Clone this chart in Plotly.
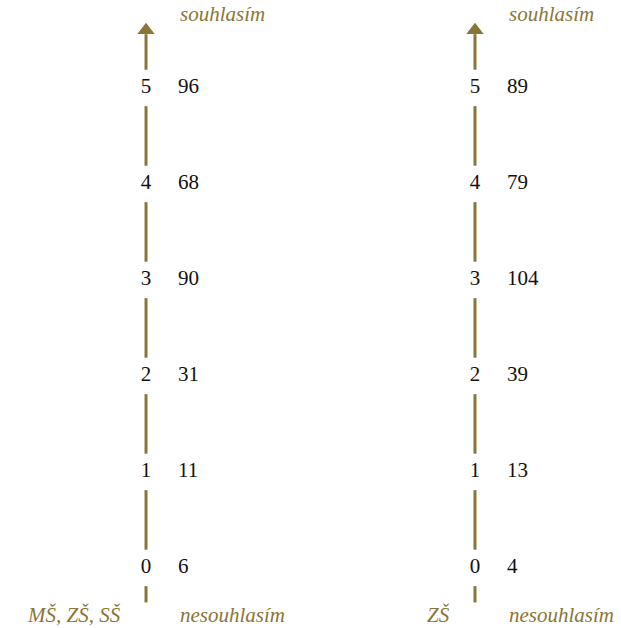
import plotly.graph_objects as go

# Likert scale levels and answer counts per group
LEVELS = [0, 1, 2, 3, 4, 5]
GROUPS = ['MŠ, ZŠ, SŠ', 'ZŠ']
COUNTS_ALL = [6, 11, 31, 90, 68, 96]
COUNTS_ZS = [4, 13, 39, 104, 79, 89]
TOP_LABEL = 'souhlasím'
BOTTOM_LABEL = 'nesouhlasím'

GOLD = '#8a7536'
FONT = 'Liberation Serif'
GAP = 0.19          # white gap around level numbers
VAL_OFFSET = 0.097  # value column offset from the axis

fig = go.Figure()

for gi, (group, counts) in enumerate(zip(GROUPS, [COUNTS_ALL, COUNTS_ZS])):
    # axis line broken around the level numbers
    xs, ys = [], []
    xs += [gi, gi, None]
    ys += [LEVELS[0] - 0.36, LEVELS[0] - GAP, None]
    for a, b in zip(LEVELS[:-1], LEVELS[1:]):
        xs += [gi, gi, None]
        ys += [a + GAP, b - GAP, None]
    xs += [gi, gi]
    ys += [LEVELS[-1] + GAP, LEVELS[-1] + 0.56]
    fig.add_trace(go.Scatter(x=xs, y=ys, mode='lines',
                             line=dict(color=GOLD, width=3), hoverinfo='skip'))
    # arrow head
    fig.add_trace(go.Scatter(x=[gi], y=[LEVELS[-1] + 0.6], mode='markers',
                             marker=dict(symbol='triangle-up', size=15, color=GOLD),
                             hoverinfo='skip'))
    # level numbers
    fig.add_trace(go.Scatter(x=[gi] * len(LEVELS), y=LEVELS, mode='text',
                             text=[str(l) for l in LEVELS], textposition='middle center',
                             textfont=dict(family=FONT, size=21, color='#111111'),
                             hoverinfo='skip'))
    # counts
    fig.add_trace(go.Scatter(x=[gi + VAL_OFFSET] * len(LEVELS), y=LEVELS, mode='text',
                             text=[str(c) for c in counts], textposition='middle right',
                             textfont=dict(family=FONT, size=21, color='#111111'),
                             hovertemplate='%{y}: %{text}<extra></extra>'))
    # captions
    fig.add_annotation(x=gi + VAL_OFFSET, y=LEVELS[-1] + 0.77, text=f'<i>{TOP_LABEL}</i>',
                       xanchor='left', yanchor='middle', showarrow=False,
                       font=dict(family=FONT, size=21, color=GOLD))
    fig.add_annotation(x=gi + VAL_OFFSET, y=LEVELS[0] - 0.49, text=f'<i>{BOTTOM_LABEL}</i>',
                       xanchor='left', yanchor='middle', showarrow=False,
                       font=dict(family=FONT, size=21, color=GOLD))
    fig.add_annotation(x=gi - 0.07, y=LEVELS[0] - 0.49, text=f'<i>{group}</i>',
                       xanchor='right', yanchor='middle', showarrow=False,
                       font=dict(family=FONT, size=21, color=GOLD))

fig.update_layout(
    width=621, height=628,
    margin=dict(l=0, r=0, t=0, b=0),
    paper_bgcolor='white', plot_bgcolor='white',
    showlegend=False,
)
fig.update_xaxes(range=[-0.4438, 1.4438], visible=False, fixedrange=True)
fig.update_yaxes(range=[-0.626, 5.916], visible=False, fixedrange=True)

# drop the default body margin so the figure fills the window
fig.write_html("out.html", config={'displayModeBar': False},
               post_script="document.body.style.margin='0';")
